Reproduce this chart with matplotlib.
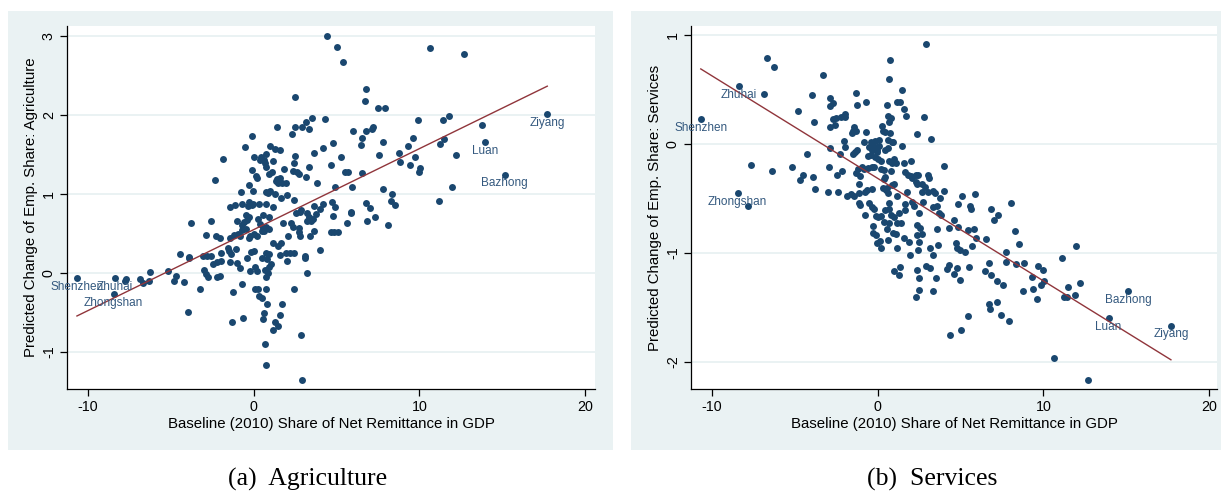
import numpy as np
import matplotlib.pyplot as plt
from matplotlib.patches import Rectangle

plt.rcParams['font.family'] = ['Liberation Sans', 'DejaVu Sans']
plt.rcParams['axes.unicode_minus'] = False

# Colores estilo Stata
FONDO = '#EAF2F3'
AZUL = '#1A476F'
ROJO = '#90353B'
TEXTO_ETQ = '#34597F'

# Panel (a): Agricultura
agr_x = [4.39, 5.05, 5.41, 10.63, 2.51, 6.76, 6.70, 7.47, 7.91, 3.54, 4.27, 3.14, 2.94, 2.51, 3.34,
         1.41, -0.08, 2.33, 5.99, 6.51, 6.80, 7.16, 7.22, 7.77, 9.88, 11.41, 11.81, -0.53, 1.00, 1.31,
         1.57, -1.85, -2.36, 0.04, 0.76, 0.46, 0.60, 0.38, 0.70, 0.74, 1.19, -0.08, 0.12, 0.18, 0.94,
         1.08, 1.39, 1.57, 1.45, 1.73, 1.93, 1.35, 1.85, 2.43, 2.47, 2.35, 2.59, 2.70, 3.18, 3.36,
         3.62, 3.84, 4.18, 4.77, 5.27, 4.65, 5.51, 5.69, 4.89, 5.94, 6.52, 6.46, 7.57, 8.75, 8.83,
         9.30, 9.62, 9.72, 9.42, 10.04, 9.96, 11.25, 11.49, 7.79, 8.35, -0.75, -0.26, -0.06, 0.76, 0.98,
         1.26, 0.88, 1.63, 1.99, 2.43, 11.15, 8.29, 8.55, 6.76, 7.02, 11.98, 12.69, 13.79, 12.22,
         -1.43, -1.11, -0.73, -0.28, -0.36, -0.12, -0.02, 0.34, 0.76, 1.17, 4.18, 4.71, 4.89, 3.66, 4.00,
         -3.81, -2.60, -0.48, -0.28, -0.40, -0.57, -0.69, -0.99, 0.26, 0.58, 0.92, 0.40, 0.58, 0.76, 0.48,
         1.77, 2.25, 2.37, 2.53, 2.76, 2.86, 3.20, 3.34, 3.56, 3.48, 3.20, 3.78, 4.77, 5.84, 5.88,
         6.82, 7.29, 8.07, 5.61, 4.65, 4.87, 5.07, 3.62, 3.40, 3.98, 2.74, 2.72, 2.76, 2.05, 1.45,
         1.65, 1.17, -2.88, -2.26, -2.04, -1.43, -1.19, -0.97, -0.83, -0.71, -0.47, -0.22, 0.04, 0.22, -0.26,
         0.64, 0.89, -1.55, -1.49, -1.37, -1.07, -1.97, -1.45, -4.47, -3.89, -3.91, -3.06, -2.84, -2.58, -2.46,
         -2.24, -1.95, -1.03, -0.83, -0.38, -0.16, 0.00, 0.72, 0.92, 0.50, 0.78, 1.02, 0.90, 1.57, 1.95,
         2.19, 2.43, 2.01, 3.08, 3.12, -0.22, 0.08, 0.20, 0.70, 0.88, 0.72, -2.98, -2.88, -2.74, -2.24,
         -2.01, -6.26, -5.16, -4.79, -4.67, -4.23, -3.26, -1.27, -0.69, 0.10, 0.26, 0.76, 2.41, 3.20, 0.34,
         0.48, 0.80, 1.69, -3.95, -1.29, -0.67, 0.60, 0.54, 1.61, 1.31, 1.47, 1.19, 2.82, 0.68, 0.74,
         2.94, -7.68, -7.75, -6.84, -6.70, -6.35]
agr_y = [3.00, 2.86, 2.67, 2.84, 2.23, 2.33, 2.17, 2.09, 2.09, 1.96, 1.95, 1.91, 1.85, 1.85, 1.82,
         1.85, 1.73, 1.75, 1.79, 1.71, 1.79, 1.82, 1.84, 1.66, 1.93, 1.93, 1.99, 1.59, 1.61, 1.57,
         1.55, 1.44, 1.17, 1.47, 1.50, 1.47, 1.43, 1.43, 1.39, 1.34, 1.41, 1.30, 1.23, 1.20, 1.25,
         1.27, 1.18, 1.20, 1.14, 1.14, 1.13, 1.16, 1.31, 1.39, 1.48, 1.29, 1.28, 1.25, 1.21, 1.34,
         1.52, 1.14, 1.58, 1.64, 1.47, 1.36, 1.27, 1.27, 1.09, 1.09, 1.26, 1.62, 1.49, 1.52, 1.40,
         1.60, 1.71, 1.47, 1.36, 1.33, 1.27, 1.63, 1.69, 1.06, 1.00, 1.02, 1.11, 1.03, 1.02, 1.04,
         1.00, 1.01, 0.94, 0.99, 0.92, 0.91, 0.91, 0.86, 0.88, 0.82, 1.09, 2.77, 1.87, 1.49,
         0.83, 0.86, 0.87, 0.90, 0.84, 0.86, 0.87, 0.87, 0.87, 0.83, 0.87, 0.89, 0.83, 0.84, 0.81,
         0.63, 0.66, 0.73, 0.70, 0.67, 0.64, 0.61, 0.66, 0.68, 0.73, 0.70, 0.62, 0.56, 0.58, 0.53,
         0.63, 0.63, 0.58, 0.75, 0.77, 0.79, 0.75, 0.71, 0.68, 0.66, 0.66, 0.74, 0.72, 0.77, 0.75,
         0.65, 0.70, 0.61, 0.63, 0.52, 0.51, 0.51, 0.53, 0.46, 0.29, 0.57, 0.52, 0.46, 0.47, 0.34,
         0.38, 0.37, 0.48, 0.47, 0.44, 0.44, 0.48, 0.49, 0.46, 0.54, 0.55, 0.47, 0.49, 0.46, 0.44,
         0.53, 0.55, 0.31, 0.27, 0.24, 0.30, 0.25, 0.14, 0.24, 0.20, 0.18, 0.21, 0.21, 0.21, 0.11,
         0.13, 0.15, 0.12, 0.06, 0.19, 0.26, 0.28, 0.25, 0.24, 0.19, 0.17, 0.11, 0.07, 0.22, 0.25,
         0.25, 0.25, 0.15, 0.21, 0.18, 0.02, 0.07, 0.02, 0.03, 0.00, -0.06, 0.03, -0.01, -0.05, -0.05,
         -0.04, 0.01, 0.02, -0.10, -0.04, -0.12, -0.21, -0.24, -0.14, -0.20, -0.20, -0.21, -0.21, 0.00, -0.30,
         -0.32, -0.40, -0.40, -0.50, -0.62, -0.57, -0.51, -0.59, -0.54, -0.63, -0.68, -0.72, -0.79, -0.90, -1.17,
         -1.36, -0.08, -0.11, -0.08, -0.13, -0.11]
agr_nombres = ['Shenzhen', 'Zhuhai', 'Zhongshan', 'Luan', 'Bazhong', 'Ziyang']
agr_nx = [-10.67, -8.39, -8.46, 13.96, 15.13, 17.71]
agr_ny = [-0.07, -0.07, -0.27, 1.65, 1.24, 2.01]
agr_ajuste = [0.546, 0.1025]   # intercepto, pendiente

# Panel (b): Servicios
ser_x = [2.93, -6.70, -6.25, 0.74, 0.68, -3.28, -6.84, 1.47, -3.96, -1.29, -1.27, -0.68, -2.86, -2.68, -2.88,
         0.54, 1.18, 1.34, 1.59, 1.69, 2.81, -4.79, -3.86, -2.68, -2.50, -2.19, -1.97, -1.95, -2.88, -2.60,
         0.64, 0.78, 0.68, -1.41, -1.47, -1.33, -1.57, -0.71, 0.26, 0.34, 0.44, 0.74, 2.39, 3.20, -2.05,
         -2.86, -4.24, -2.27, -1.97, -0.81, -0.40, -0.26, -0.14, 0.06, 0.64, 0.84, 0.92, -0.50, -0.34, -0.20,
         -0.06, 0.10, -0.02, 1.45, -1.37, -1.23, -1.47, -0.58, -0.42, -0.16, 0.04, 0.46, 0.60, 0.22, 0.70,
         0.98, 1.08, 0.84, 1.59, 2.01, 3.98, -7.66, -6.35, -5.19, -4.48, -4.69, -3.92, -2.96, -2.17, -2.47,
         -1.21, -0.93, -0.83, -0.61, -0.36, -0.22, -1.29, -1.07, -1.15, 0.20, 0.40, 0.42, 0.40, 0.82, 0.96,
         0.84, 1.65, 1.85, 2.01, 2.29, 2.45, 2.07, 2.31, 2.35, 2.69, 2.85, 3.05, 3.11, 4.02, -3.80,
         -3.02, -2.37, -1.87, -1.61, -1.43, -1.13, -0.75, -0.63, -0.36, 0.32, 0.48, 0.58, 0.64, 1.18, 1.75,
         2.67, 3.05, 3.46, 3.36, 3.76, 5.07, 5.87,
         -7.80, -1.11, -1.07, -0.50, -0.34, -0.22, -0.75, -0.10, 0.04, 0.18, 0.46, 0.70, 0.78, 0.98, 0.66,
         0.40, 0.66, 1.14, 1.43, 1.26, 1.67, 1.63, -0.26, 0.54, -0.30, -0.10, -0.02, 0.14, 0.20, 0.62,
         0.90, 1.08, 1.18, 1.57, 1.87, 1.95, 2.09, 2.19, 2.49, 2.35, 2.55, 2.65, 2.35, 2.47, 2.43,
         2.71, 3.36, 3.56, 3.70, 3.84, 3.56, 3.64, 3.15, 3.33, 4.30, 4.62, 4.86, 4.82, 4.70, 4.76,
         4.96, 5.27, 5.45, 5.83, 5.69, 5.95, 5.59, 5.61, 6.53, 6.81, 7.26, 7.01, 8.04, 8.28, 8.54,
         7.76, 7.74, 8.34, 8.82, 9.65, 9.31, 9.39, 9.61, 8.76, 0.98, 1.34, 1.30, 2.35, 2.51, 2.91,
         3.15, 4.16, 4.28, 4.76, 4.62, 4.96, 3.52, 2.51, 3.32, 2.31, 5.49, 6.73, 6.47, 6.81, 7.18,
         7.56, 6.69, 6.77, 7.22, 7.46, 7.90, 5.43, 5.02, 4.38,
         9.95, 10.03, 9.87, 11.12, 11.96, 11.50, 12.20, 11.22, 11.40, 11.90, 10.61, 12.68]
ser_y = [0.92, 0.79, 0.71, 0.77, 0.60, 0.64, 0.46, 0.50, 0.45, 0.47, 0.36, 0.39, 0.42, 0.38, 0.35,
         0.36, 0.39, 0.39, 0.32, 0.26, 0.25, 0.30, 0.20, 0.23, 0.24, 0.25, 0.28, 0.25, 0.16, 0.18,
         0.26, 0.24, 0.20, 0.16, 0.12, 0.12, 0.10, 0.11, 0.17, 0.12, 0.11, 0.10, 0.09, 0.05, 0.03,
         -0.04, -0.09, -0.09, -0.03, 0.02, 0.02, 0.01, 0.03, 0.04, 0.04, 0.02, 0.02, -0.03, -0.05, -0.03,
         -0.05, -0.02, -0.07, -0.02, -0.07, -0.05, -0.09, -0.11, -0.10, -0.12, -0.14, -0.05, -0.04, -0.16, -0.16,
         -0.14, -0.17, -0.17, -0.17, -0.16, -0.20, -0.19, -0.25, -0.21, -0.28, -0.33, -0.30, -0.21, -0.25, -0.28,
         -0.23, -0.21, -0.23, -0.22, -0.21, -0.21, -0.27, -0.29, -0.37, -0.23, -0.24, -0.30, -0.32, -0.25, -0.37,
         -0.38, -0.26, -0.28, -0.29, -0.28, -0.28, -0.31, -0.35, -0.37, -0.37, -0.39, -0.28, -0.31, -0.43, -0.41,
         -0.44, -0.44, -0.48, -0.46, -0.48, -0.45, -0.44, -0.42, -0.41, -0.40, -0.42, -0.40, -0.45, -0.48, -0.44,
         -0.44, -0.44, -0.45, -0.43, -0.50, -0.48, -0.46,
         -0.57, -0.54, -0.56, -0.54, -0.58, -0.60, -0.65, -0.66, -0.67, -0.66, -0.61, -0.60, -0.65, -0.67, -0.54,
         -0.72, -0.73, -0.73, -0.73, -0.63, -0.61, -0.55, -0.75, -0.78, -0.82, -0.84, -0.91, -0.89, -0.96, -0.88,
         -0.82, -0.83, -0.96, -0.86, -0.90, -1.02, -0.53, -0.57, -0.63, -0.74, -0.77, -0.83, -0.84, -0.90, -0.97,
         -0.53, -0.58, -0.57, -0.63, -0.65, -0.78, -0.93, -0.96, -1.02, -0.77, -0.70, -0.76, -0.55, -0.91, -0.96,
         -0.97, -0.99, -0.79, -0.78, -0.94, -0.86, -0.57, -0.60, -0.87, -0.60, -0.65, -0.70, -0.54, -0.80, -0.92,
         -0.99, -1.08, -1.10, -1.09, -1.12, -1.22, -1.33, -1.42, -1.35, -1.17, -1.13, -1.20, -1.16, -1.23, -1.12,
         -1.14, -1.15, -1.11, -1.14, -1.19, -1.25, -1.23, -1.34, -1.35, -1.41, -1.13, -1.09, -1.17, -1.20, -1.26,
         -1.30, -1.47, -1.52, -1.45, -1.57, -1.63, -1.58, -1.71, -1.76,
         -1.16, -1.26, -1.30, -1.05, -0.94, -1.31, -1.28, -1.41, -1.41, -1.39, -1.97, -2.17]
ser_nombres = ['Shenzhen', 'Zhuhai', 'Zhongshan', 'Bazhong', 'Luan', 'Ziyang']
ser_nx = [-10.67, -8.35, -8.45, 15.10, 13.93, 17.69]
ser_ny = [0.23, 0.53, -0.45, -1.35, -1.60, -1.67]
ser_ajuste = [-0.315, -0.0943]

X_TITULO = 'Baseline (2010) Share of Net Remittance in GDP'
X_TICKS = [-10, 0, 10, 20]

W, H = 1221, 492
fig = plt.figure(figsize=(W / 100, H / 100), dpi=100)


def caja(x0, y0, x1, y1):
    # pixeles (origen arriba-izquierda) -> fraccion de figura
    return [x0 / W, 1 - y1 / H, (x1 - x0) / W, (y1 - y0) / H]


def panel(fondo, area, xs, ys, nx, ny, nombres, ajuste, ylab, yticks, xlim, ylim, leyenda, cx):
    f = caja(*fondo)
    fig.patches.append(Rectangle((f[0], f[1]), f[2], f[3], transform=fig.transFigure,
                                 facecolor=FONDO, edgecolor='none', zorder=-5))
    ax = fig.add_axes(caja(*area))
    ax.set_facecolor('white')
    for lado in ['top', 'right']:
        ax.spines[lado].set_visible(False)
    for lado in ['left', 'bottom']:
        ax.spines[lado].set_color('black')
        ax.spines[lado].set_linewidth(0.9)

    ax.scatter(list(xs) + list(nx), list(ys) + list(ny), s=25, color=AZUL, linewidths=0, zorder=3)
    todos = np.array(list(xs) + list(nx))
    xl = np.array([todos.min(), todos.max()])
    ax.plot(xl, ajuste[0] + ajuste[1] * xl, color=ROJO, lw=1.0, zorder=4)
    for n, a, b in zip(nombres, nx, ny):
        ax.annotate(n, (a, b), xytext=(0, -6.2), textcoords='offset points', ha='center', va='center',
                    fontsize=8.5, color=TEXTO_ETQ, zorder=5)

    ax.set_xlim(*xlim)
    ax.set_ylim(*ylim)
    ax.set_xticks(X_TICKS)
    ax.set_yticks(yticks)
    ax.yaxis.grid(True, color=FONDO, lw=1.4, zorder=1)
    ax.set_axisbelow(True)
    ax.tick_params(axis='both', length=5, width=0.9, color='black', labelsize=10.3, pad=3)
    for t in ax.get_yticklabels():
        t.set_rotation(90)
        t.set_va('center')
    ax.set_xlabel(X_TITULO, fontsize=10.8, labelpad=2)
    ax.set_ylabel(ylab, fontsize=10.8, labelpad=3)

    fig.text(cx / W, 1 - 479 / H, leyenda, family=['Liberation Serif', 'DejaVu Serif'],
             fontsize=18.5, ha='center', va='center')
    return ax


panel((8, 11, 613, 450), (67, 26, 595, 389), agr_x, agr_y, agr_nx, agr_ny, agr_nombres, agr_ajuste,
      'Predicted Change of Emp. Share: Agriculture', [-1, 0, 1, 2, 3],
      (-11.27, 20.59), (-1.472, 3.123), '(a)  Agriculture', 308)
panel((631, 11, 1221, 450), (691, 26, 1217, 389), ser_x, ser_y, ser_nx, ser_ny, ser_nombres, ser_ajuste,
      'Predicted Change of Emp. Share: Services', [-2, -1, 0, 1],
      (-11.26, 20.47), (-2.252, 1.086), '(b)  Services', 932)

fig.savefig('out.png', dpi=100, facecolor='white')
